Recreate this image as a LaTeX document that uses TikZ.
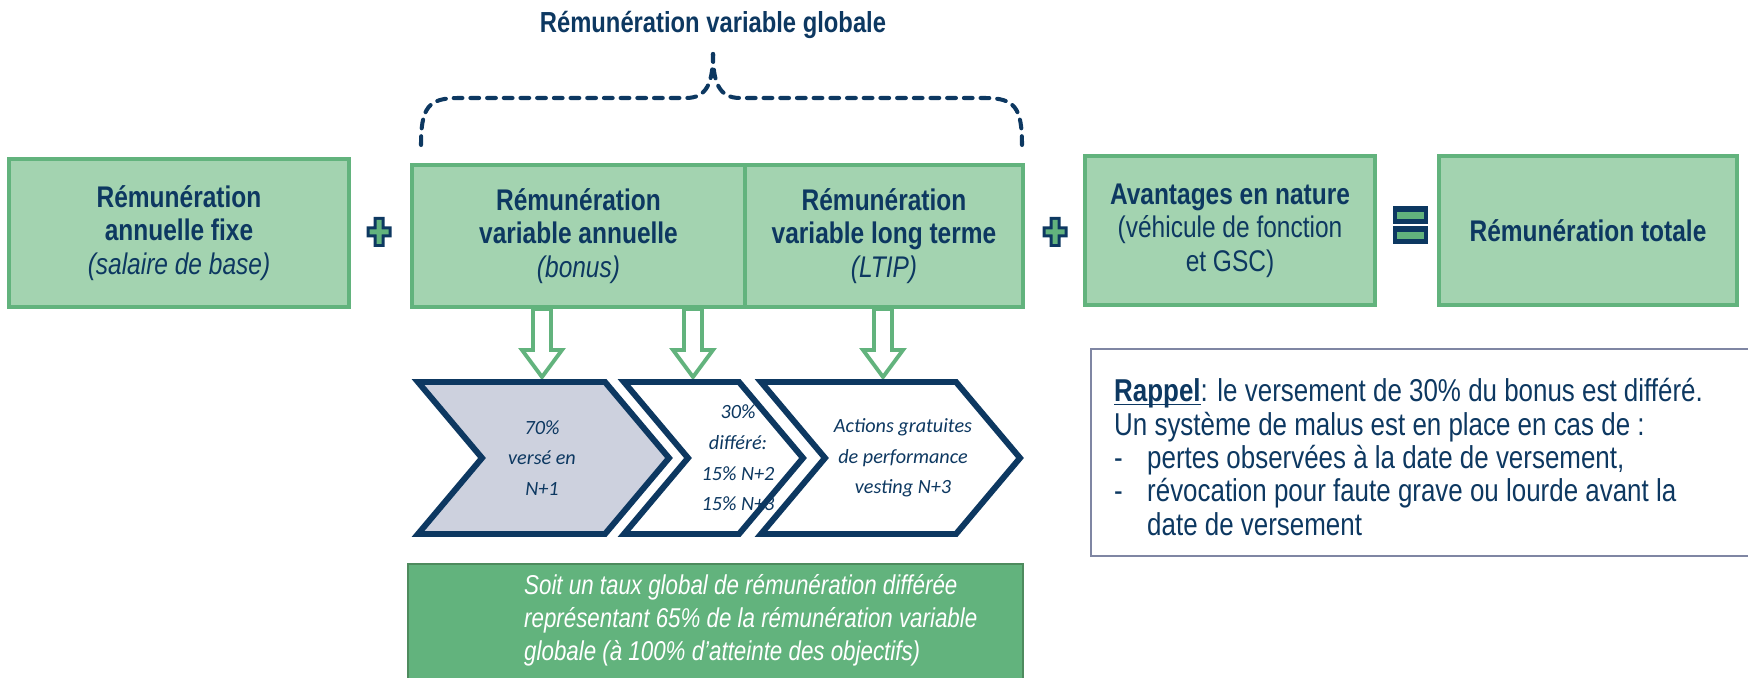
\documentclass[tikz,border=0pt]{standalone}
\usepackage{fontspec}
\setmainfont{Liberation Sans}
\newfontfamily\narrowfont[FakeStretch=0.82]{Liberation Sans}
\newfontfamily\chevfont{Carlito}
\usepackage{xcolor}
\definecolor{RemNavy}{HTML}{0D3861}
\definecolor{RemGreen}{HTML}{A3D3B0}
\definecolor{RemLine}{HTML}{62B37D}
\definecolor{RemDeep}{HTML}{62B37D}
\definecolor{RemDeepLine}{HTML}{4E8B5E}
\definecolor{RemGrey}{HTML}{CDD1DE}
\definecolor{RemFrame}{HTML}{7F86A3}
\usepackage{tikz}
\usetikzlibrary{positioning,calc}

\begin{document}
\begin{tikzpicture}[x=0.02cm, y=-0.02cm,
  compbox/.style={draw=RemLine, fill=RemGreen, line width=2.4pt, text=RemNavy,
    align=center, inner sep=0pt, font=\narrowfont\fontsize{17}{19}\selectfont},
  chevtext/.style={text=RemNavy, align=center,
    font=\chevfont\itshape\fontsize{11.5}{17.5}\selectfont},
  chev/.style={draw=RemNavy, line width=3.4pt, line join=miter},
  hollow/.style={draw=RemLine, fill=white, line width=2.2pt}]
  \useasboundingbox (0,0) rectangle (1748,678);
  % title and dashed brace
  \node[text=RemNavy, font=\narrowfont\bfseries\fontsize{16.5}{19}\selectfont]
    (titre) at (713,25) {Rémunération variable globale};
  \draw[RemNavy, line width=2.3pt, line cap=round, dash pattern=on 5pt off 4.5pt]
    (421,145) .. controls (421,108) and (428,98) .. (458,98) -- (686,98)
    .. controls (706,98) and (713,84) .. (713,54);
  \draw[RemNavy, line width=2.3pt, line cap=round, dash pattern=on 5pt off 4.5pt]
    (1022,145) .. controls (1022,108) and (1015,98) .. (985,98) -- (740,98)
    .. controls (720,98) and (713,84) .. (713,54);
  % components
  \node[compbox, minimum width=6.8cm, minimum height=2.96cm] (fixe) at (179,233)
    {\textbf{Rémunération}\\\textbf{annuelle fixe}\\\textit{(salaire de base)}};
  \node[compbox, minimum width=6.66cm, minimum height=2.84cm] (bonus) at (578.5,236)
    {\textbf{Rémunération}\\\textbf{variable annuelle}\\\textit{(bonus)}};
  \node[compbox, minimum width=5.56cm, minimum height=2.84cm] (ltip) at (884,236)
    {\textbf{Rémunération}\\\textbf{variable long terme}\\\textit{(LTIP)}};
  \node[compbox, minimum width=5.8cm, minimum height=2.98cm] (avantages) at (1230,230.5)
    {\textbf{Avantages en nature}\\(véhicule de fonction\\et GSC)};
  \node[compbox, minimum width=5.96cm, minimum height=2.98cm] (totale) at (1588,230.5)
    {\textbf{Rémunération totale}};
  % plus signs
  \foreach \cx in {379,1055}{
    \begin{scope}[shift={(\cx,232)}]
      \fill[RemNavy] (-5.5,-15) -- (5.5,-15) -- (5.5,-5.5) -- (12.5,-5.5) -- (12.5,5.5)
        -- (5.5,5.5) -- (5.5,15) -- (-5.5,15) -- (-5.5,5.5) -- (-12.5,5.5)
        -- (-12.5,-5.5) -- (-5.5,-5.5) -- cycle;
      \fill[RemLine] (-2.5,-12) -- (2.5,-12) -- (2.5,-2.5) -- (9.5,-2.5) -- (9.5,2.5)
        -- (2.5,2.5) -- (2.5,12) -- (-2.5,12) -- (-2.5,2.5) -- (-9.5,2.5)
        -- (-9.5,-2.5) -- (-2.5,-2.5) -- cycle;
    \end{scope}
  }
  % equals sign
  \foreach \y in {206,226}{
    \fill[RemNavy] (1393,\y) rectangle (1428,\y+18);
    \fill[RemLine] (1397,\y+6) rectangle (1424,\y+13);
  }
  % hollow arrows
  \foreach \x in {542,693,883}{
    \draw[hollow] (\x-9,309) -- (\x+9,309) -- (\x+9,350) -- (\x+20,350) -- (\x,377)
      -- (\x-20,350) -- (\x-9,350) -- cycle;
  }
  % chevrons
  \foreach \l/\r/\clr in {418/669/RemGrey, 624/803/white, 761/1020/white}{
    \draw[chev, fill=\clr] (\l,382) -- (\r-64,382) -- (\r,458) -- (\r-64,534)
      -- (\l,534) -- (\l+64,458) -- cycle;
  }
  \node[chevtext] (verse) at (542,458) {70\%\\versé en\\N+1};
  \node[chevtext] (differe) at (738,458) {30\%\\différé:\\15\% N+2\\15\% N+3};
  \node[chevtext] (actions) at (903,458) {Actions gratuites\\de performance\\vesting N+3};
  % reminder frame
  \draw[RemFrame, line width=1.3pt] (1760,349) -| (1091,556) -- (1760,556);
  \node[anchor=west, align=left, text=RemNavy,
    font=\narrowfont\fontsize{18}{19}\selectfont] (rappel) at (1108,457)
    {\underline{\smash{\textbf{Rappel}}}: le versement de 30\% du bonus est différé.\\
     Un système de malus est en place en cas de :\\
     \makebox[0.66cm][l]{-}pertes observées à la date de versement,\\
     \makebox[0.66cm][l]{-}révocation pour faute grave ou lourde avant la\\
     \hspace*{0.66cm}date de versement};
  % deferred share
  \fill[RemDeep] (408,564) rectangle (1023,690);
  \draw[RemDeepLine, line width=1.2pt] (408,690) -- (408,564) -- (1023,564) -- (1023,690);
  \node[anchor=west, align=left, text=white,
    font=\narrowfont\itshape\fontsize{15.5}{18.7}\selectfont] (soit) at (518,620)
    {Soit un taux global de rémunération différée\\
     représentant 65\% de la rémunération variable\\
     globale (à 100\% d’atteinte des objectifs)};
\end{tikzpicture}
\end{document}
